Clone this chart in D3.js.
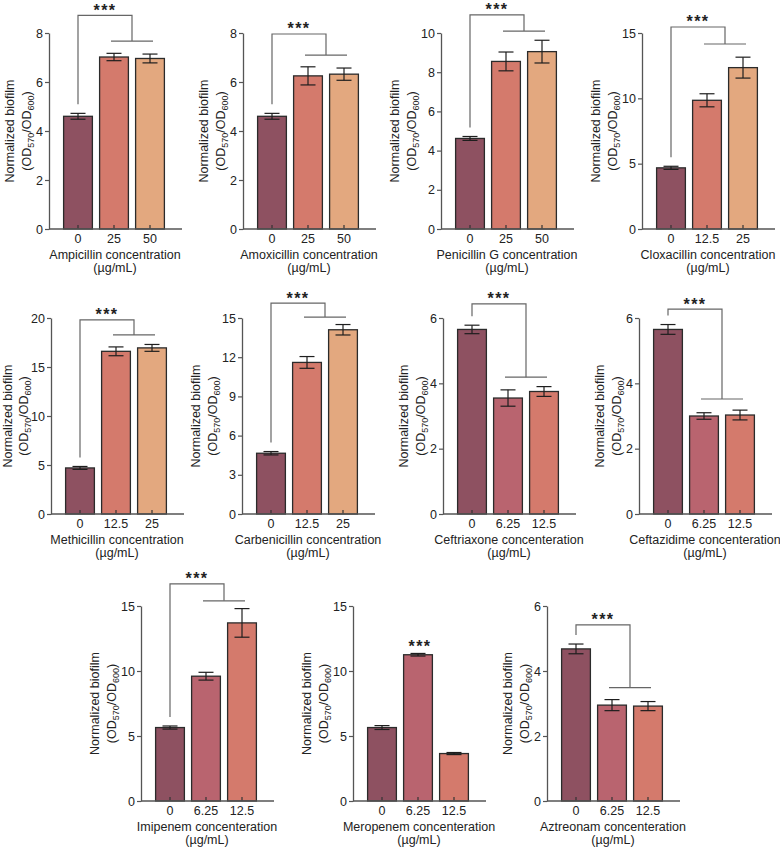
<!DOCTYPE html>
<html>
<head>
<meta charset="utf-8">
<script src="https://cdn.jsdelivr.net/npm/d3@7"></script>
<style>
  body { margin: 0; background: #fff; }
  svg { font-family: "Liberation Sans", Arial, sans-serif; }
</style>
</head>
<body>
<div id="chart"></div>
<script>
// Values
const drugs = ["Ampicillin", "Amoxicillin", "Penicillin G", "Cloxacillin",
  "Methicillin", "Carbenicillin", "Ceftriaxone", "Ceftazidime",
  "Imipenem", "Meropenem", "Aztreonam"];
const xWord = ["concentration", "concentration", "concentration", "concentration",
  "concentration", "concentration", "concenteration", "concenteration",
  "concenteration", "concenteration", "concenteration"];
const doses = [
  ["0", "25", "50"], ["0", "25", "50"], ["0", "25", "50"], ["0", "12.5", "25"],
  ["0", "12.5", "25"], ["0", "12.5", "25"], ["0", "6.25", "12.5"], ["0", "6.25", "12.5"],
  ["0", "6.25", "12.5"], ["0", "6.25", "12.5"], ["0", "6.25", "12.5"]
];
const means = [
  [4.6, 7.02, 6.96], [4.6, 6.25, 6.32], [4.62, 8.55, 9.05], [4.68, 9.85, 12.35],
  [4.7, 16.6, 16.95], [4.65, 11.6, 14.1], [5.65, 3.55, 3.75], [5.65, 3.0, 3.03],
  [5.65, 9.6, 13.7], [5.65, 11.25, 3.65], [4.68, 2.95, 2.92]
];
const errs = [
  [0.12, 0.15, 0.18], [0.12, 0.37, 0.25], [0.1, 0.48, 0.58], [0.12, 0.5, 0.8],
  [0.15, 0.45, 0.35], [0.13, 0.45, 0.4], [0.13, 0.25, 0.15], [0.15, 0.1, 0.15],
  [0.12, 0.3, 1.1], [0.15, 0.1, 0.08], [0.15, 0.17, 0.14]
];
const yMax = [8, 8, 10, 15, 20, 15, 6, 6, 15, 15, 6];
const yStep = [2, 2, 2, 5, 5, 3, 2, 2, 5, 5, 2];
// significance bracket levels (data units); null = stars over single bar
const sigTop = [8.72, 7.96, 10.92, 15.46, 19.8, 16.14, 6.43, 6.27, 16.7, null, 5.42];
const sigLow = [7.67, 7.1, 10.1, 14.16, 18.27, 15.07, 4.19, 3.52, 15.4, null, 3.49];
const sigBar = [null, null, null, null, null, null, null, null, null, 1, null];

const warm = ["#8e5161", "#d47a6c", "#e3a87f"];
const cool = ["#8e5161", "#b9646f", "#d47a6c"];

const width = 780, height = 848;

// panel layout: y-axis x position, plot top / bottom
const axisX = [49, 243, 441, 642, 51, 242, 443, 639, 141, 353, 547];
const rowTop = [33, 33, 33, 33, 318, 318, 318, 318, 606, 606, 606];
const rowBot = [229, 229, 229, 229, 514, 514, 514, 514, 801, 801, 801];
const plotW = 133;

const svg = d3.select("#chart")
  .append("svg")
  .attr("width", width)
  .attr("height", height);

drugs.forEach((drug, i) => drawPanel(i));

function drawPanel(i) {
  const ax = axisX[i];
  const g = svg.append("g");
  const colors = i < 6 ? warm : cool;

  const xScale = d3.scaleBand()
    .domain(doses[i])
    .range([ax + 11, ax + 119])
    .paddingInner(0.2)
    .paddingOuter(0.1);

  const yScale = d3.scaleLinear()
    .domain([0, yMax[i]])
    .range([rowBot[i], rowTop[i]]);

  const rows = doses[i].map((d, k) => ({ dose: d, mean: means[i][k], err: errs[i][k], k: k }));

  // bars
  g.selectAll("rect.bar")
    .data(rows)
    .join("rect")
    .attr("class", "bar")
    .attr("x", d => xScale(d.dose))
    .attr("width", xScale.bandwidth())
    .attr("y", d => yScale(d.mean))
    .attr("height", d => yScale(0) - yScale(d.mean))
    .attr("fill", d => colors[d.k])
    .attr("stroke", "#2b2b2b")
    .attr("stroke-width", 1.3);

  // error bars
  const eb = g.selectAll("g.err")
    .data(rows)
    .join("g")
    .attr("class", "err")
    .attr("stroke", "#1e1e1e")
    .attr("stroke-width", 1.2);
  const cx = d => xScale(d.dose) + xScale.bandwidth() / 2;
  eb.append("line")
    .attr("x1", cx).attr("x2", cx)
    .attr("y1", d => yScale(d.mean - d.err))
    .attr("y2", d => yScale(d.mean + d.err));
  eb.append("line")
    .attr("x1", d => cx(d) - 7.5).attr("x2", d => cx(d) + 7.5)
    .attr("y1", d => yScale(d.mean + d.err))
    .attr("y2", d => yScale(d.mean + d.err));
  eb.append("line")
    .attr("x1", d => cx(d) - 7.5).attr("x2", d => cx(d) + 7.5)
    .attr("y1", d => yScale(d.mean - d.err))
    .attr("y2", d => yScale(d.mean - d.err));

  // y axis
  const yAxis = d3.axisLeft(yScale)
    .tickValues(d3.range(0, yMax[i] + 0.001, yStep[i]))
    .tickFormat(d3.format("d"))
    .tickSizeInner(4)
    .tickSizeOuter(0)
    .tickPadding(2);
  const yg = g.append("g")
    .attr("transform", `translate(${ax},0)`)
    .call(yAxis);
  yg.select(".domain").attr("stroke", "#555").attr("stroke-width", 1.3);
  yg.selectAll(".tick line").attr("stroke", "#555").attr("stroke-width", 1.2);
  yg.selectAll(".tick text")
    .attr("font-size", 12.5)
    .attr("font-family", "Liberation Sans, Arial, sans-serif")
    .attr("fill", "#222");
  const tickLeft = ax + yg.node().getBBox().x;

  // x axis
  const xAxis = d3.axisBottom(xScale)
    .tickSizeInner(-4)
    .tickSizeOuter(0)
    .tickPadding(5);
  const xg = g.append("g")
    .attr("transform", `translate(0,${rowBot[i]})`)
    .call(xAxis);
  xg.select(".domain").remove();
  xg.append("line")
    .attr("x1", ax).attr("x2", ax + plotW)
    .attr("stroke", "#555")
    .attr("stroke-width", 1.3);
  xg.selectAll(".tick line").attr("stroke", "#333").attr("stroke-width", 1.2);
  xg.selectAll(".tick text")
    .attr("font-size", 12.5)
    .attr("font-family", "Liberation Sans, Arial, sans-serif")
    .attr("fill", "#222");

  // x title
  const tx = ax + 66;
  g.append("text")
    .attr("x", tx).attr("y", rowBot[i] + 30)
    .attr("text-anchor", "middle")
    .attr("font-size", 12.5)
    .attr("fill", "#222")
    .text(`${drugs[i]} ${xWord[i]}`);
  g.append("text")
    .attr("x", tx).attr("y", rowBot[i] + 43)
    .attr("text-anchor", "middle")
    .attr("font-size", 12.5)
    .attr("fill", "#222")
    .text("(µg/mL)");

  // y title, placed left of the widest tick label (kept inside the page)
  const midY = (rowTop[i] + rowBot[i]) / 2;
  let base2 = tickLeft - 5;
  const base1 = Math.max(base2 - 17, 12);
  base2 = Math.max(base2, base1 + 15.5);
  g.append("text")
    .attr("transform", `translate(${base1},${midY})rotate(-90)`)
    .attr("text-anchor", "middle")
    .attr("font-size", 12.5)
    .attr("fill", "#222")
    .text("Normalized biofilm");
  const yt = g.append("text")
    .attr("transform", `translate(${base2},${midY})rotate(-90)`)
    .attr("text-anchor", "middle")
    .attr("font-size", 12.5)
    .attr("fill", "#222");
  yt.append("tspan").text("(OD");
  yt.append("tspan").attr("font-size", 9).attr("dy", 3).text("570");
  yt.append("tspan").attr("dy", -3).text("/OD");
  yt.append("tspan").attr("font-size", 9).attr("dy", 3).text("600");
  yt.append("tspan").attr("dy", -3).text(")");

  // significance
  if (sigTop[i] != null) {
    const x0 = cx(rows[0]);
    const xm = (cx(rows[1]) + cx(rows[2])) / 2;
    const yTop = yScale(sigTop[i]);
    const yLow = yScale(sigLow[i]);
    const yEnd0 = yScale(rows[0].mean + rows[0].err) - 9;
    const br = g.append("g")
      .attr("stroke", "#666")
      .attr("stroke-width", 1.2)
      .attr("fill", "none");
    br.append("path")
      .attr("d", `M${x0},${yEnd0}V${yTop}H${xm}V${yLow}`);
    br.append("line")
      .attr("x1", xm - 21).attr("x2", xm + 21)
      .attr("y1", yLow).attr("y2", yLow);
    g.append("text")
      .attr("x", (x0 + xm) / 2)
      .attr("y", yTop + 0.5)
      .attr("text-anchor", "middle")
      .attr("font-size", 16)
      .attr("font-weight", "bold")
      .attr("letter-spacing", 1.5)
      .attr("fill", "#222")
      .text("***");
  } else {
    const d = rows[sigBar[i]];
    g.append("text")
      .attr("x", cx(d) + 2)
      .attr("y", yScale(d.mean + d.err) - 1)
      .attr("text-anchor", "middle")
      .attr("font-size", 16)
      .attr("font-weight", "bold")
      .attr("letter-spacing", 1.5)
      .attr("fill", "#222")
      .text("***");
  }
}
</script>
</body>
</html>
